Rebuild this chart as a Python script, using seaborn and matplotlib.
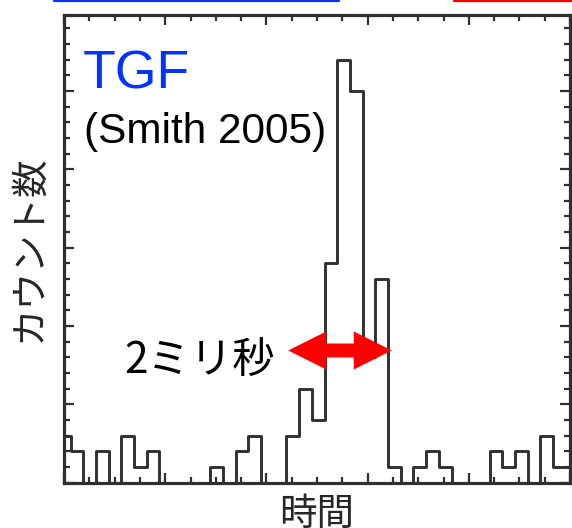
import numpy as np
import pandas as pd
import matplotlib
matplotlib.use("Agg")
import matplotlib.pyplot as plt
from matplotlib.lines import Line2D
from matplotlib.patches import FancyArrow
from matplotlib.ticker import MultipleLocator
import seaborn as sns

# ---- data ----
bin_start = -0.1225      # ms, left edge of first (partial) bin
bin_width = 0.251        # ms
counts = [3, 2, 0, 2, 0, 3, 1, 2, 0, 0, 0, 0, 1, 0, 2, 3, 0, 0, 3, 6,
          4, 14, 27, 25, 8, 13, 1, 0, 1, 2, 1, 0, 0, 0, 2, 1, 2, 0, 3, 1, 1]
title_text = "TGF"
source_text = "(Smith 2005)"
scale_text = "2ミリ秒"
xlabel = "時間"
ylabel = "カウント数"

edges = [bin_start + bin_width * i for i in range(len(counts) + 1)]
centers = [(edges[i] + edges[i + 1]) / 2 for i in range(len(counts))]
df = pd.DataFrame({"time": centers, "count": counts})

sns.set_theme(style="white")
plt.rcParams["font.family"] = ["Liberation Sans", "DejaVu Sans"]
jp = ["Noto Sans CJK JP", "DejaVu Sans"]

fig = plt.figure(figsize=(5.72, 5.28), dpi=100)
ax = fig.add_axes([64 / 572, 1 - 482.5 / 528, 506 / 572, 467.5 / 528])

frame = "#303030"
sns.histplot(data=df, x="time", weights="count", bins=edges, element="step",
             fill=False, color=frame, linewidth=2.1, ax=ax)

ax.set_xlim(0, 10)
ax.set_ylim(0, 29.85)
ax.xaxis.set_major_locator(MultipleLocator(2))
ax.xaxis.set_minor_locator(MultipleLocator(0.5))
ax.yaxis.set_major_locator(MultipleLocator(5))
ax.yaxis.set_minor_locator(MultipleLocator(1))
ax.tick_params(which="both", direction="in", top=True, right=True,
               bottom=True, left=True, labelbottom=False, labelleft=False,
               color=frame, width=1.6)
ax.tick_params(which="major", length=7)
ax.tick_params(which="minor", length=4)
for s in ax.spines.values():
    s.set_color(frame)
    s.set_linewidth(2.3)

ax.set_xlabel(xlabel, fontsize=27, family=jp, labelpad=9)
ax.set_ylabel(ylabel, fontsize=27, family=jp, labelpad=11)

ax.text(0.038, 0.843, title_text, transform=ax.transAxes, fontsize=38.5,
        color="#0433ff", ha="left", va="baseline")
ax.text(0.039, 0.726, source_text, transform=ax.transAxes, fontsize=30.5,
        color="black", ha="left", va="baseline")
ax.text(0.119, 0.234, scale_text, transform=ax.transAxes, fontsize=30.5,
        color="black", ha="left", va="baseline", family=jp)

# double-headed red arrow (2 ms span)
xc, yc, half = 5.455, 8.43, 1.022
for d in (-half, half):
    ax.add_patch(FancyArrow(xc, yc, d, 0, width=0.89, head_width=2.43,
                            head_length=0.75, length_includes_head=True,
                            color="#ff0000", lw=0, zorder=5))

# cropped fragments at the top edge
fig.add_artist(Line2D([54 / 572, 339 / 572], [1 - 0.8 / 528] * 2,
                      color="#0433ff", lw=1.6, transform=fig.transFigure))
fig.add_artist(Line2D([454 / 572, 1.0], [1 - 0.8 / 528] * 2,
                      color="#ff0000", lw=1.6, transform=fig.transFigure))

fig.savefig("out.png", dpi=100)
